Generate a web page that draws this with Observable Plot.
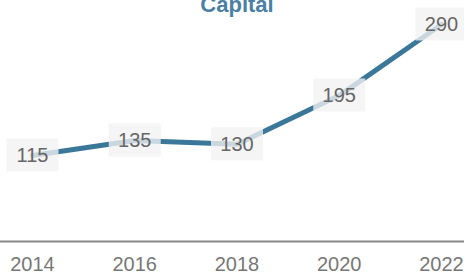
<!DOCTYPE html>
<html>
<head>
<meta charset="utf-8">
<script src="https://cdn.jsdelivr.net/npm/d3@7"></script>
<script src="https://cdn.jsdelivr.net/npm/@observablehq/plot@0.6"></script>
<style>
  html, body { margin: 0; padding: 0; background: white; overflow: hidden; }
  #chart svg { overflow: visible; }
</style>
</head>
<body>
<div id="chart"></div>
<script>
const title = "Capital";
const years = [2014, 2016, 2018, 2020, 2022];
const values = [115, 135, 130, 195, 290];
const labels = ["115", "135", "130", "195", "290"];

const data = years.map((y, i) => ({year: y, value: values[i], label: labels[i]}));

const boxSymbol = {
  draw(ctx) { ctx.rect(-26, -17, 52, 33); }
};

const chart = Plot.plot({
  width: 464,
  height: 274,
  marginTop: 24,
  marginBottom: 33,
  marginLeft: 32,
  marginRight: 23,
  style: {fontFamily: "Liberation Sans, Arial, sans-serif", background: "white"},
  x: {domain: [2014, 2022], label: null},
  y: {domain: [0, 290], axis: null},
  marks: [
    Plot.ruleY([0], {stroke: "#8a8a8a", strokeWidth: 2, insetLeft: -32, insetRight: -23}),
    Plot.axisX({ticks: years, tickFormat: d => String(d), tickSize: 0, tickPadding: 15, fontSize: 20, fill: "#777", stroke: "none", label: null}),
    Plot.line(data, {x: "year", y: "value", stroke: "#3b7799", strokeWidth: 5, curve: "linear"}),
    Plot.dot(data, {x: "year", y: "value", symbol: boxSymbol, r: 10, fill: "#f2f2f2", fillOpacity: 0.78, stroke: "none"}),
    Plot.text(data, {x: "year", y: "value", text: "label", fontSize: 20, fill: "#666"}),
    Plot.text([title], {frameAnchor: "top", dy: -28, fontSize: 22, fontWeight: "bold", fill: "#4a81a3"})
  ]
});
document.getElementById("chart").appendChild(chart);
</script>
</body>
</html>
